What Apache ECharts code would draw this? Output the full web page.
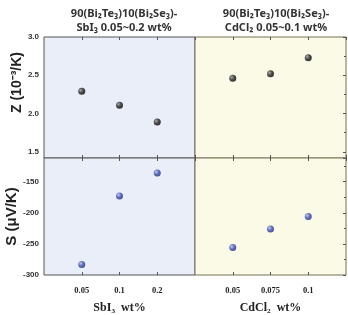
<!DOCTYPE html>
<html>
<head>
<meta charset="utf-8">
<script src="https://cdn.jsdelivr.net/npm/echarts@6/dist/echarts.min.js"></script>
<style>
  html, body { margin: 0; padding: 0; background: #fff; }
  #chart { width: 348px; height: 315px; }
</style>
</head>
<body>
<div id="chart"></div>
<script>
// SbI3 doped samples (left column) - evenly spaced categories
const sbCats = ['', '0.05', '0.1', '0.2', ''];
const sbZ = [2.29, 2.11, 1.89];
const sbS = [-283, -173, -136];
// CdCl2 doped samples (right column)
const cdX = [0.05, 0.075, 0.1];
const cdZ = [2.46, 2.52, 2.73];
const cdS = [-256, -226, -206];

const black = {
  type: 'radial', x: 0.35, y: 0.35, r: 0.7,
  colorStops: [{ offset: 0, color: '#9a9a9a' }, { offset: 0.5, color: '#222' }, { offset: 1, color: '#000' }]
};
const blue = {
  type: 'radial', x: 0.35, y: 0.35, r: 0.7,
  colorStops: [{ offset: 0, color: '#b8c4f0' }, { offset: 0.5, color: '#3c4fb4' }, { offset: 1, color: '#1c2a80' }]
};

const tickFont = { fontFamily: 'Liberation Sans', fontWeight: 'bold', fontSize: 8, color: '#333' };
const xFont = { fontFamily: 'Liberation Serif', fontWeight: 'bold', fontSize: 8.5, color: '#222' };
const xName = { fontFamily: 'Liberation Serif', fontWeight: 'bold', fontSize: 12, color: '#222' };
const yName = { fontFamily: 'Liberation Sans', fontWeight: 'bold', fontSize: 14, color: '#222' };
const titleFont = { fontFamily: 'Noto Sans', fontWeight: 'bold', fontSize: 11, color: '#333', lineHeight: 14 };

const chart = echarts.init(document.getElementById('chart'));

function catAxis(idx, show, name) {
  return {
    type: 'category', gridIndex: idx, data: sbCats, boundaryGap: false,
    axisLine: { show: false },
    axisTick: { show: true, inside: true, length: 3, lineStyle: { color: '#555' },
      interval: (i) => i > 0 && i < sbCats.length - 1 },
    axisLabel: Object.assign({ show: show, margin: 11, interval: 0 }, xFont),
    splitLine: { show: false },
    name: name, nameLocation: 'middle', nameGap: 27, nameTextStyle: xName
  };
}
function valX(idx, show, name) {
  return {
    type: 'value', gridIndex: idx, min: 0.025, max: 0.125, interval: 0.025,
    axisLine: { show: false },
    axisTick: { show: true, inside: true, length: 3, lineStyle: { color: '#555' } },
    axisLabel: Object.assign({
      show: show, margin: 11, showMinLabel: false, showMaxLabel: false,
      formatter: (v) => String(+v.toFixed(3))
    }, xFont),
    splitLine: { show: false },
    name: name, nameLocation: 'middle', nameGap: 27, nameTextStyle: xName
  };
}

chart.setOption({
  animation: false,
  backgroundColor: '#fff',
  title: [
    { text: '90(Bi₂Te₃)10(Bi₂Se₃)-\nSbI₃ 0.05~0.2 wt%', left: 119, top: 2, textAlign: 'center', textStyle: titleFont },
    { text: '90(Bi₂Te₃)10(Bi₂Se₃)-\nCdCl₂ 0.05~0.1 wt%', left: 271, top: 2, textAlign: 'center', textStyle: titleFont }
  ],
  grid: [
    { left: 44, top: 37, width: 151, height: 121, show: true, backgroundColor: '#e9eef8', borderColor: '#555', borderWidth: 1 },
    { left: 195, top: 37, width: 151, height: 121, show: true, backgroundColor: '#fbfae6', borderColor: '#777055', borderWidth: 1 },
    { left: 44, top: 158, width: 151, height: 122, show: true, backgroundColor: '#e9eef8', borderColor: '#555', borderWidth: 1 },
    { left: 195, top: 158, width: 151, height: 122, show: true, backgroundColor: '#fbfae6', borderColor: '#777055', borderWidth: 1 }
  ],
  xAxis: [
    catAxis(0, false, ''),
    valX(1, false, ''),
    catAxis(2, true, 'SbI₃  wt%'),
    valX(3, true, 'CdCl₂  wt%'),
    // top-edge ticks
    Object.assign(catAxis(0, false, ''), { position: 'top' }),
    Object.assign(valX(1, false, ''), { position: 'top' }),
    Object.assign(catAxis(2, false, ''), { position: 'top' }),
    Object.assign(valX(3, false, ''), { position: 'top' })
  ],
  yAxis: [
    { type: 'value', gridIndex: 0, min: 1.42, max: 3.0, splitNumber: 3,
      axisLine: { show: false }, splitLine: { show: false },
      axisTick: { inside: true, length: 3, lineStyle: { color: '#555' } },
      axisLabel: Object.assign({ margin: 5, showMinLabel: false, formatter: (v) => v.toFixed(1) }, tickFont),
      name: 'Z (10⁻³/K)', nameLocation: 'middle', nameRotate: 90, nameGap: 19,
      nameTextStyle: Object.assign({ padding: [0, 0, 0, 30] }, yName) },
    { type: 'value', gridIndex: 1, min: 1.42, max: 3.0, splitNumber: 3, position: 'right',
      axisLine: { show: false }, splitLine: { show: false }, axisLabel: { show: false },
      axisTick: { inside: true, length: 3, lineStyle: { color: '#555' } },
      minorTick: { show: true, splitNumber: 2, length: 2, lineStyle: { color: '#555' } } },
    { type: 'value', gridIndex: 2, min: -300, max: -112, splitNumber: 4,
      axisLine: { show: false }, splitLine: { show: false },
      axisTick: { inside: true, length: 3, lineStyle: { color: '#555' } },
      axisLabel: Object.assign({ margin: 5, showMaxLabel: false }, tickFont),
      name: 'S (μV/K)', nameLocation: 'middle', nameRotate: 90, nameGap: 19,
      nameTextStyle: Object.assign({ fontSize: 15 }, yName, { fontSize: 15 }) },
    { type: 'value', gridIndex: 3, min: -300, max: -112, splitNumber: 4, position: 'right',
      axisLine: { show: false }, splitLine: { show: false }, axisLabel: { show: false },
      axisTick: { inside: true, length: 3, lineStyle: { color: '#555' } },
      minorTick: { show: true, splitNumber: 2, length: 2, lineStyle: { color: '#555' } } }
  ],
  series: [
    { type: 'scatter', xAxisIndex: 0, yAxisIndex: 0, symbolSize: 7, itemStyle: { color: black },
      data: sbZ.map((v, i) => [sbCats[i + 1], v]) },
    { type: 'scatter', xAxisIndex: 1, yAxisIndex: 1, symbolSize: 7, itemStyle: { color: black },
      data: cdZ.map((v, i) => [cdX[i], v]) },
    { type: 'scatter', xAxisIndex: 2, yAxisIndex: 2, symbolSize: 7, itemStyle: { color: blue },
      data: sbS.map((v, i) => [sbCats[i + 1], v]) },
    { type: 'scatter', xAxisIndex: 3, yAxisIndex: 3, symbolSize: 7, itemStyle: { color: blue },
      data: cdS.map((v, i) => [cdX[i], v]) }
  ]
});
</script>
</body>
</html>
